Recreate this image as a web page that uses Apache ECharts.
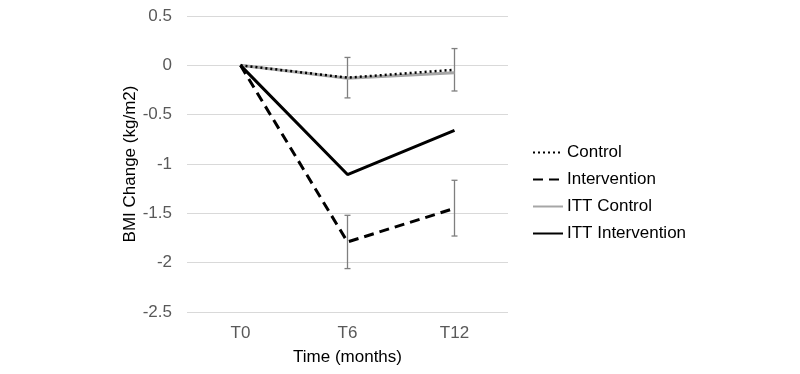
<!DOCTYPE html>
<html>
<head>
<meta charset="utf-8">
<script src="https://cdn.jsdelivr.net/npm/echarts@6/dist/echarts.min.js"></script>
<style>
html, body { margin: 0; padding: 0; background: #fff; }
#chart { width: 800px; height: 374px; }
</style>
</head>
<body>
<div id="chart"></div>
<script>
var categories = ['T0', 'T6', 'T12'];
var control = [0, -0.125, -0.045];
var intervention = [0, -1.79, -1.45];
var ittControl = [0, -0.13, -0.075];
var ittIntervention = [0, -1.107, -0.66];
// error bars: [category index, low, high]
var controlErr = [[1, -0.33, 0.08], [2, -0.26, 0.17]];
var interventionErr = [[1, -2.06, -1.52], [2, -1.73, -1.165]];

var font = 'Liberation Sans, Arial, sans-serif';
var textGray = '#595959';

function errorBars(data) {
	return {
		type: 'custom',
		silent: true,
		z: 1,
		renderItem: function(params, api) {
			var x = api.value(0);
			var lo = api.coord([x, api.value(1)]);
			var hi = api.coord([x, api.value(2)]);
			var w = 3;
			var style = { stroke: '#7f7f7f', lineWidth: 1.3 };
			return {
				type: 'group',
				children: [
					{ type: 'line', shape: { x1: lo[0], y1: lo[1], x2: hi[0], y2: hi[1] }, style: style },
					{ type: 'line', shape: { x1: lo[0] - w, y1: lo[1], x2: lo[0] + w, y2: lo[1] }, style: style },
					{ type: 'line', shape: { x1: hi[0] - w, y1: hi[1], x2: hi[0] + w, y2: hi[1] }, style: style }
				]
			};
		},
		encode: { x: 0, y: [1, 2] },
		data: data
	};
}

var myChart = echarts.init(document.getElementById('chart'));

var option = {
	animation: false,
	grid: { left: 187, right: 292, top: 16, bottom: 62 },
	legend: {
		orient: 'vertical',
		left: 527,
		top: 139,
		itemWidth: 30,
		itemHeight: 14,
		itemGap: 10,
		itemStyle: { opacity: 0 },
		textStyle: { fontFamily: font, fontSize: 17, color: '#000', padding: [0, 0, 0, -1] },
		data: ['Control', 'Intervention', 'ITT Control', 'ITT Intervention']
	},
	xAxis: {
		type: 'category',
		data: categories,
		boundaryGap: true,
		axisLine: { show: false },
		axisTick: { show: false },
		axisLabel: { fontFamily: font, fontSize: 17, color: textGray, margin: 13 },
		name: 'Time (months)',
		nameLocation: 'middle',
		nameGap: 37,
		nameTextStyle: { fontFamily: font, fontSize: 17, color: '#000' }
	},
	yAxis: {
		type: 'value',
		min: -2.5,
		max: 0.5,
		interval: 0.5,
		axisLine: { show: false },
		axisTick: { show: false },
		splitLine: { lineStyle: { color: '#d9d9d9', width: 1 } },
		axisLabel: { fontFamily: font, fontSize: 17, color: textGray, margin: 15 },
		name: 'BMI Change (kg/m2)',
		nameLocation: 'middle',
		nameGap: 42,
		nameTextStyle: { fontFamily: font, fontSize: 17, color: '#000' }
	},
	series: [
		{
			name: 'ITT Control', type: 'line', data: ittControl, symbol: 'none', z: 2,
			lineStyle: { color: '#a6a6a6', width: 3 },
			itemStyle: { color: '#a6a6a6' }
		},
		{
			name: 'Control', type: 'line', data: control, symbol: 'none', z: 3,
			lineStyle: { color: '#000', width: 2.5, type: [2, 3] },
			itemStyle: { color: '#000' }
		},
		{
			name: 'Intervention', type: 'line', data: intervention, symbol: 'none', z: 3,
			lineStyle: { color: '#000', width: 3, type: [10, 6] },
			itemStyle: { color: '#000' }
		},
		{
			name: 'ITT Intervention', type: 'line', data: ittIntervention, symbol: 'none', z: 3,
			lineStyle: { color: '#000', width: 3 },
			itemStyle: { color: '#000' }
		},
		errorBars(controlErr),
		errorBars(interventionErr)
	]
};

myChart.setOption(option);
</script>
</body>
</html>
